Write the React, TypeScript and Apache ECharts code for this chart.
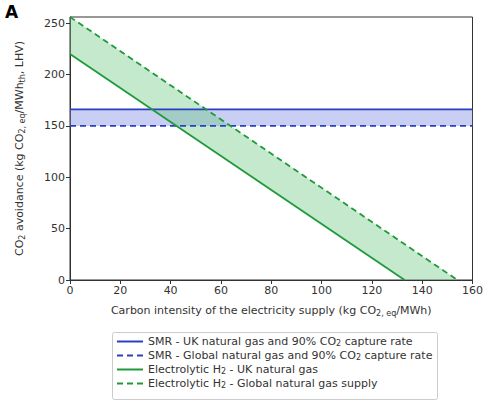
import React, { useEffect, useRef } from "react";
import * as echarts from "echarts";

const xTicks = [0, 20, 40, 60, 80, 100, 120, 140, 160];
const yTicks = [0, 50, 100, 150, 200, 250];
const smrUK: number[][] = [[0, 166], [160, 166]];
const smrGlobal: number[][] = [[0, 150], [160, 150]];
const elecUK: number[][] = [[0, 220], [133, 0]];
const elecGlobal: number[][] = [[0, 256], [154, 0]];
const seriesNames = [
  "SMR - UK natural gas and 90% CO2 capture rate",
  "SMR - Global natural gas and 90% CO2 capture rate",
  "Electrolytic H2 - UK natural gas",
  "Electrolytic H2 - Global natural gas supply",
];
const legendRich = [
  "{a|SMR - UK natural gas and 90% CO}{s|2}{a| capture rate}",
  "{a|SMR - Global natural gas and 90% CO}{s|2}{a| capture rate}",
  "{a|Electrolytic H}{s|2}{a| - UK natural gas}",
  "{a|Electrolytic H}{s|2}{a| - Global natural gas supply}",
];

const BLUE = "#2b3fc4";
const GREEN = "#1e9a3c";
const FONT = "DejaVu Sans";

export default function App() {
  const ref = useRef<HTMLDivElement>(null);
  useEffect(() => {
    if (!ref.current) return;
    const chart = echarts.init(ref.current, null, { renderer: "svg" });
    const polySeries = (pts: number[][], color: string) => ({
      type: "custom",
      silent: true,
      z: 1,
      data: [0],
      renderItem: (_p: any, api: any) => ({
        type: "polygon",
        shape: { points: pts.map((p) => api.coord(p)) },
        style: { fill: color },
      }),
    });
    const sub = { fontSize: 8, fontFamily: FONT, color: "#333", verticalAlign: "bottom", lineHeight: 14 };
    const main = { fontSize: 11, fontFamily: FONT, color: "#333", lineHeight: 14 };
    chart.setOption({
      animation: false,
      grid: { left: 70, right: 10, top: 17, bottom: 121, show: true, borderColor: "#333", borderWidth: 1 },
      graphic: [
        { type: "text", left: 5, top: 3, style: { text: "A", font: `bold 17px ${FONT}`, fill: "#000" } },
        {
          type: "rect",
          shape: { x: 112.5, y: 332.5, width: 325, height: 67, r: 2 },
          style: { fill: "#fff", stroke: "#ccc", lineWidth: 1 },
          z: -1,
        },
      ],
      xAxis: {
        type: "value",
        min: 0,
        max: 160,
        interval: 20,
        name: "{a|Carbon intensity of the electricity supply (kg CO}{s|2, eq}{a|/MWh)}",
        nameLocation: "middle",
        nameGap: 23,
        nameTextStyle: { rich: { a: main, s: sub } },
        axisLine: { lineStyle: { color: "#333" } },
        axisTick: { lineStyle: { color: "#333" }, length: 4 },
        axisLabel: { color: "#333", fontSize: 11, fontFamily: FONT, margin: 5 },
        splitLine: { show: false },
      },
      yAxis: {
        type: "value",
        min: 0,
        max: 256,
        interval: 50,
        name: "{a|CO}{s|2}{a| avoidance (kg CO}{s|2, eq}{a|/MWh}{s|th}{a|, LHV)}",
        nameLocation: "middle",
        nameGap: 44,
        nameTextStyle: { rich: { a: main, s: sub } },
        axisLine: { lineStyle: { color: "#333" } },
        axisTick: { lineStyle: { color: "#333" }, length: 4 },
        axisLabel: { color: "#333", fontSize: 11, fontFamily: FONT, margin: 5, showMaxLabel: false },
        splitLine: { show: false },
      },
      legend: {
        orient: "vertical",
        left: 112,
        top: 332,
        itemWidth: 26,
        itemHeight: 10,
        itemGap: 3,
        padding: [4, 8, 8, 4],
        itemStyle: { opacity: 0 },
        data: seriesNames,
        formatter: (name: string) => legendRich[seriesNames.indexOf(name)],
        textStyle: { rich: { a: { ...main, lineHeight: 11 }, s: { ...sub, lineHeight: 11 } } },
      },
      series: [
        polySeries([smrUK[0], smrUK[1], smrGlobal[1], smrGlobal[0]], "rgba(120,135,225,0.4)"),
        polySeries([elecUK[0], elecUK[1], elecGlobal[1], elecGlobal[0]], "rgba(110,200,130,0.4)"),
        { name: seriesNames[0], type: "line", data: smrUK, symbol: "none", z: 3, lineStyle: { color: BLUE, width: 1.8 }, itemStyle: { color: BLUE } },
        { name: seriesNames[1], type: "line", data: smrGlobal, symbol: "none", z: 3, lineStyle: { color: BLUE, width: 1.8, type: [6, 4] }, itemStyle: { color: BLUE } },
        { name: seriesNames[2], type: "line", data: elecUK, symbol: "none", z: 3, lineStyle: { color: GREEN, width: 1.8 }, itemStyle: { color: GREEN } },
        { name: seriesNames[3], type: "line", data: elecGlobal, symbol: "none", z: 3, lineStyle: { color: GREEN, width: 1.8, type: [6, 4] }, itemStyle: { color: GREEN } },
      ],
    });
    return () => chart.dispose();
  }, []);
  return <div ref={ref} style={{ width: 486, height: 401, position: "absolute", left: 0, top: 0 }} />;
}
